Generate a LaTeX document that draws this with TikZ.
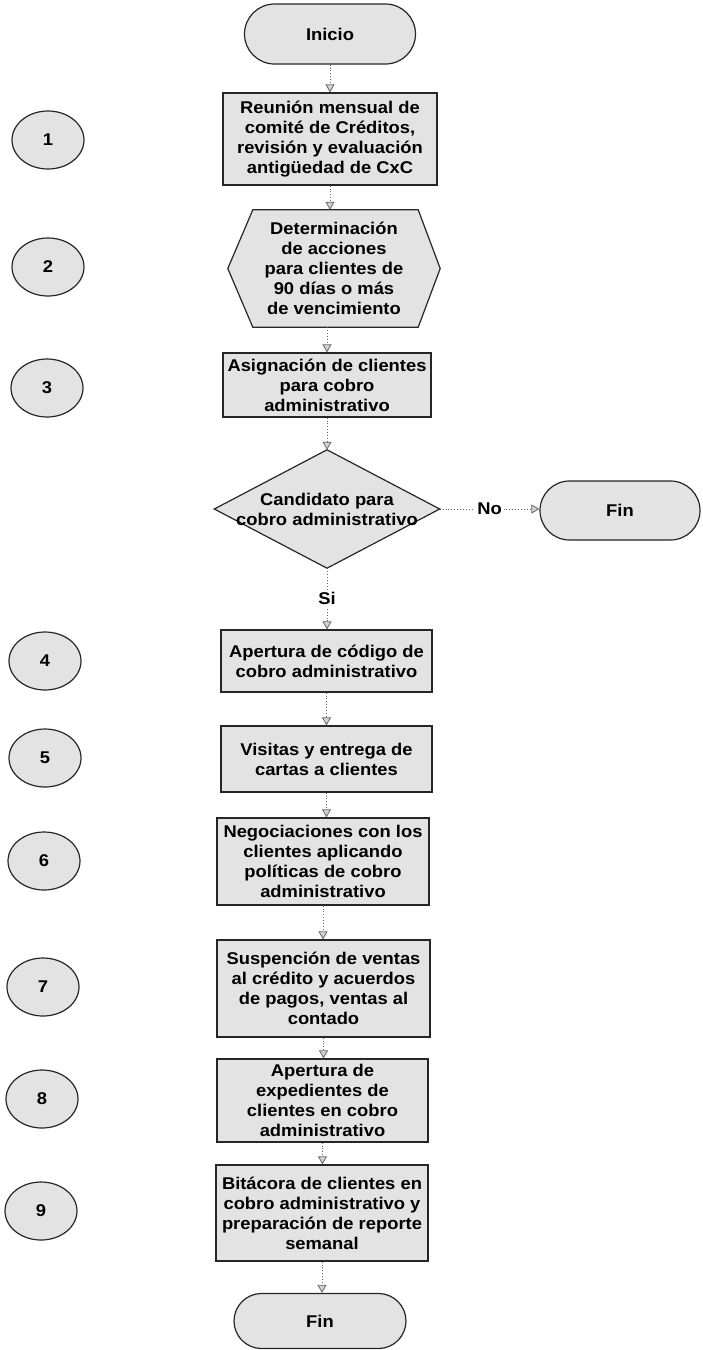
\documentclass[tikz,border=0pt]{standalone}
\usepackage{fontspec}
\setmainfont{Liberation Sans}[FakeStretch=1.08]
\usetikzlibrary{arrows.meta,shapes.misc,shapes.geometric,backgrounds}

\begin{document}
\begin{tikzpicture}[x=1pt,y=-1pt,
  every node/.style={font=\fontsize{17}{20}\selectfont\bfseries, align=center},
  shapefill/.style={fill=gray!22, draw=black!85, line width=1.2pt},
  proc/.style={shapefill, rectangle, inner sep=2pt},
  term/.style={shapefill, rounded rectangle, inner sep=2pt},
  num/.style={shapefill, ellipse, minimum width=72pt, minimum height=58pt, inner sep=0pt},
  free/.style={inner sep=0pt},
  flow/.style={draw=black!60, line width=0.9pt, dotted,
    -{Triangle[width=9pt,length=8pt,fill=gray!35,line width=0.8pt]}},
  lbl/.style={fill=white, inner sep=2pt}
]
\useasboundingbox (0,0) rectangle (702,1350);

% main column
\node[term, minimum width=175pt, minimum height=60pt] (inicio) at (330,34) {Inicio};
\node[proc, minimum width=214pt, minimum height=92pt] (b1) at (330,139)
  {Reunión mensual de\\comité de Créditos,\\revisión y evaluación\\antigüedad de CxC};
\node[free, minimum width=212pt, minimum height=117pt] (hex) at (334,268.5)
  {Determinación\\de acciones\\para clientes de\\90 días o más\\de vencimiento};
\node[proc, minimum width=208pt, minimum height=64pt] (b3) at (327,385)
  {Asignación de clientes\\para cobro\\administrativo};
\node[free, minimum width=225pt, minimum height=118pt] (dec) at (327,509)
  {Candidato para\\cobro administrativo};
\node[term, minimum width=164pt, minimum height=59pt] (fin1) at (620,510.5) {Fin};
\node[proc, minimum width=211pt, minimum height=62pt] (b4) at (326.5,661)
  {Apertura de código de\\cobro administrativo};
\node[proc, minimum width=211pt, minimum height=66pt] (b5) at (326.5,759)
  {Visitas y entrega de\\cartas a clientes};
\node[proc, minimum width=212pt, minimum height=87pt] (b6) at (323,861.5)
  {Negociaciones con los\\clientes aplicando\\políticas de cobro\\administrativo};
\node[proc, minimum width=213pt, minimum height=97pt] (b7) at (323.5,988.5)
  {Suspención de ventas\\al crédito y acuerdos\\de pagos, ventas al\\contado};
\node[proc, minimum width=211pt, minimum height=83pt] (b8) at (322.5,1100.5)
  {Apertura de\\expedientes de\\clientes en cobro\\administrativo};
\node[proc, minimum width=212pt, minimum height=96pt] (b9) at (322,1213)
  {Bitácora de clientes en\\cobro administrativo y\\preparación de reporte\\semanal};
\node[term, minimum width=176pt, minimum height=55pt] (fin2) at (320,1321) {Fin};

% hexagon and diamond outlines behind their labels
\begin{scope}[on background layer]
  \path[shapefill] (hex.west) -- ([xshift=25pt]hex.north west) -- ([xshift=-22pt]hex.north east)
    -- (hex.east) -- ([xshift=-22pt]hex.south east) -- ([xshift=25pt]hex.south west) -- cycle;
  \path[shapefill] (dec.north) -- (dec.east) -- (dec.south) -- (dec.west) -- cycle;
\end{scope}

% step numbers
\node[num] (c1) at (48,140) {1};
\node[num] (c2) at (48,267) {2};
\node[num] (c3) at (47,388) {3};
\node[num] (c4) at (45,661) {4};
\node[num] (c5) at (45,758) {5};
\node[num] (c6) at (44,861) {6};
\node[num] (c7) at (43,987) {7};
\node[num] (c8) at (42,1099) {8};
\node[num] (c9) at (41,1211) {9};

% connectors
\draw[flow] (inicio.south) -- (inicio.south |- b1.north);
\draw[flow] (b1.south) -- (b1.south |- hex.north);
\draw[flow] (b3.north |- hex.south) -- (b3.north);
\draw[flow] (b3.south) -- (b3.south |- dec.north);
\draw[flow] (dec.east) -- node[lbl] (no) {No} (dec.east -| fin1.west);
\draw[flow] (dec.south) -- node[lbl] (si) {Si} (dec.south |- b4.north);
\draw[flow] (b4.south) -- (b4.south |- b5.north);
\draw[flow] (b5.south) -- (b5.south |- b6.north);
\draw[flow] (b6.south) -- (b6.south |- b7.north);
\draw[flow] (b7.south) -- (b7.south |- b8.north);
\draw[flow] (b8.south) -- (b8.south |- b9.north);
\draw[flow] (b9.south) -- (b9.south |- fin2.north);
\end{tikzpicture}
\end{document}
